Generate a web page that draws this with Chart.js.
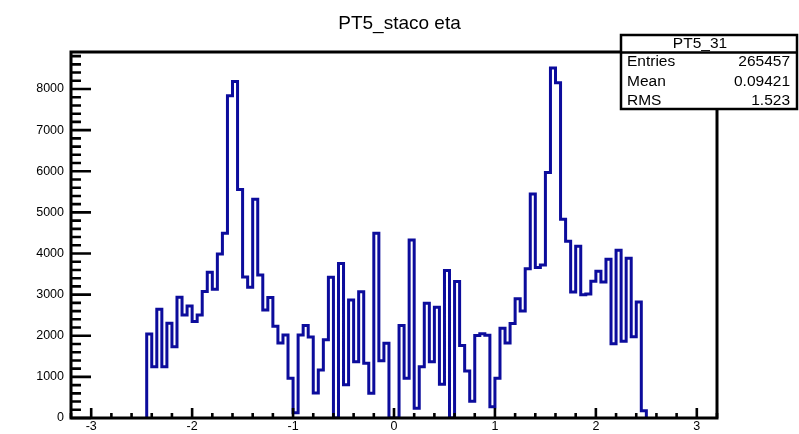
<!DOCTYPE html>
<html lang="en">
<head>
  <meta charset="UTF-8">
  <title>PT5_staco eta</title>
  <script src="https://cdn.jsdelivr.net/npm/chart.js@4.4.0/dist/chart.umd.min.js"></script>
  <style>
    html, body { margin: 0; padding: 0; background: #ffffff; }
    #wrap { width: 799px; height: 434px; }
  </style>
</head>
<body>
<div id="wrap"><canvas id="eta-chart" width="799" height="434"></canvas></div>

<script>
  // histogram binning: 0.05 wide bins, axis from -3.2 to 3.2
  var axisMin = -3.2;
  var axisMax = 3.2;
  var binWidth = 0.05;
  var firstEdge = -2.45;   // low edge of the first filled bin

  // bin contents from -2.45 up to 2.50
  var counts = [
    2044, 1249, 2644, 1249, 2303, 1735, 2936, 2506, 2725, 2344,
    2506, 3074, 3544, 3130, 3990, 4493, 7834, 8183, 5555, 3430,
    3180, 5320, 3479, 2628, 2930, 2230, 1825, 2019,  965,  125,
    2019, 2250, 1970,  608, 1168, 1905, 3422,    0, 3755,  810,
    2871, 1370, 3073, 1330,  600, 4493, 1395, 1817,    0,    0,
    2250,  965, 4331,  235, 1249, 2790, 1370, 2693,  820, 3584,
       0, 3317, 1765, 1140,  405, 2005, 2050, 2015,  276,  965,
    2182, 1825, 2295, 2900, 2600, 3630, 5450, 3660, 3720, 5969,
    8508, 8150, 4835, 4300, 3065, 4177, 3000, 3013, 3325, 3568,
    3305, 3860, 1805, 4080, 1865, 3885, 1978, 2818,  175
  ];

  var xTickValues = [-3, -2, -1, 0, 1, 2, 3];
  var yTickValues = [0, 1000, 2000, 3000, 4000, 5000, 6000, 7000, 8000];
  var yMax = 8900;

  var histName = 'PT5_31';
  var statNames = ['Entries', 'Mean', 'RMS'];
  var statValues = ['265457', '0.09421', '1.523'];

  var fontFamily = "'Liberation Sans', Arial, Helvetica, sans-serif";

  // step outline: each point sits on a bin low edge and holds that bin's content
  var points = [{x: firstEdge, y: 0}];
  counts.forEach(function(c, i) {
    points.push({x: firstEdge + i * binWidth, y: c});
  });
  points.push({x: firstEdge + counts.length * binWidth, y: 0});

  // frame and inward ticks, drawn over the histogram like ROOT does
  var frameTicks = {
    id: 'frameTicks',
    afterDatasetsDraw: function(chart) {
      var ctx = chart.ctx;
      var a = chart.chartArea;
      var x = chart.scales.x;
      var y = chart.scales.y;
      ctx.save();
      ctx.strokeStyle = '#000000';
      ctx.lineWidth = 2.6;
      ctx.beginPath();
      for (var k = 0; k * 200 <= yMax; k++) {
        var py = y.getPixelForValue(k * 200);
        var len = (k % 5 === 0) ? 20 : 10;
        ctx.moveTo(a.left, py);
        ctx.lineTo(a.left + len, py);
      }
      for (var j = -16; j <= 16; j++) {
        var px = x.getPixelForValue(j * 0.2);
        var tl = (j % 5 === 0) ? 10 : 5;
        ctx.moveTo(px, a.bottom);
        ctx.lineTo(px, a.bottom - tl);
      }
      ctx.stroke();
      ctx.lineWidth = 3;
      ctx.strokeRect(a.left, a.top, a.right - a.left, a.bottom - a.top);
      ctx.restore();
    }
  };

  // stats box in the top right corner
  var statsBox = {
    id: 'statsBox',
    afterDraw: function(chart) {
      var ctx = chart.ctx;
      var bx = 621, by = 35, bw = 176, bh = 74;
      ctx.save();
      ctx.fillStyle = '#ffffff';
      ctx.fillRect(bx, by, bw, bh);
      ctx.strokeStyle = '#000000';
      ctx.lineWidth = 2.5;
      ctx.strokeRect(bx, by, bw, bh);
      ctx.beginPath();
      ctx.moveTo(bx, 52.5);
      ctx.lineTo(bx + bw, 52.5);
      ctx.stroke();

      ctx.fillStyle = '#000000';
      ctx.font = '15.5px ' + fontFamily;
      ctx.textBaseline = 'middle';
      ctx.textAlign = 'center';
      ctx.fillText(histName, 700, 43.5);
      var rowY = [61.5, 82, 101];
      for (var i = 0; i < statNames.length; i++) {
        ctx.textAlign = 'left';
        ctx.fillText(statNames[i], 627, rowY[i]);
        ctx.textAlign = 'right';
        ctx.fillText(statValues[i], 790, rowY[i]);
      }
      ctx.restore();
    }
  };

  var ctx = document.getElementById('eta-chart').getContext('2d');
  var etaChart = new Chart(ctx, {
    type: 'line',
    data: {
      datasets: [{
        label: histName,
        data: points,
        stepped: 'before',
        borderColor: '#0c0c9c',
        borderWidth: 3,
        pointRadius: 0,
        fill: false,
        tension: 0
      }]
    },
    options: {
      responsive: false,
      animation: false,
      devicePixelRatio: 1,
      layout: { padding: 0 },
      plugins: {
        legend: { display: false },
        tooltip: { enabled: false },
        title: {
          display: true,
          text: 'PT5_staco eta',
          color: '#000000',
          font: { family: fontFamily, size: 19, weight: 'normal' },
          padding: { top: 11.9, bottom: 17.3 }
        }
      },
      scales: {
        x: {
          type: 'linear',
          min: axisMin,
          max: axisMax,
          grid: { display: false, drawTicks: false },
          border: { display: false },
          ticks: {
            color: '#000000',
            font: { family: fontFamily, size: 12.5 },
            padding: 1.5,
            maxRotation: 0,
            autoSkip: false,
            callback: function(v) { return String(v); }
          },
          afterBuildTicks: function(scale) {
            scale.ticks = xTickValues.map(function(v) { return {value: v}; });
          },
          afterFit: function(scale) { scale.height = 16; }
        },
        y: {
          type: 'linear',
          min: 0,
          max: yMax,
          grid: { display: false, drawTicks: false },
          border: { display: false },
          ticks: {
            color: '#000000',
            font: { family: fontFamily, size: 12.5 },
            padding: 7,
            callback: function(v) { return String(v); }
          },
          afterBuildTicks: function(scale) {
            scale.ticks = yTickValues.map(function(v) { return {value: v}; });
          },
          afterFit: function(scale) { scale.width = 71; }
        },
        // empty right-hand axis, only reserves the margin beside the frame
        yRight: {
          type: 'linear',
          position: 'right',
          display: true,
          grid: { display: false, drawTicks: false },
          border: { display: false },
          ticks: { display: false },
          afterFit: function(scale) { scale.width = 82; }
        }
      }
    },
    plugins: [frameTicks, statsBox]
  });
</script>
</body>
</html>
